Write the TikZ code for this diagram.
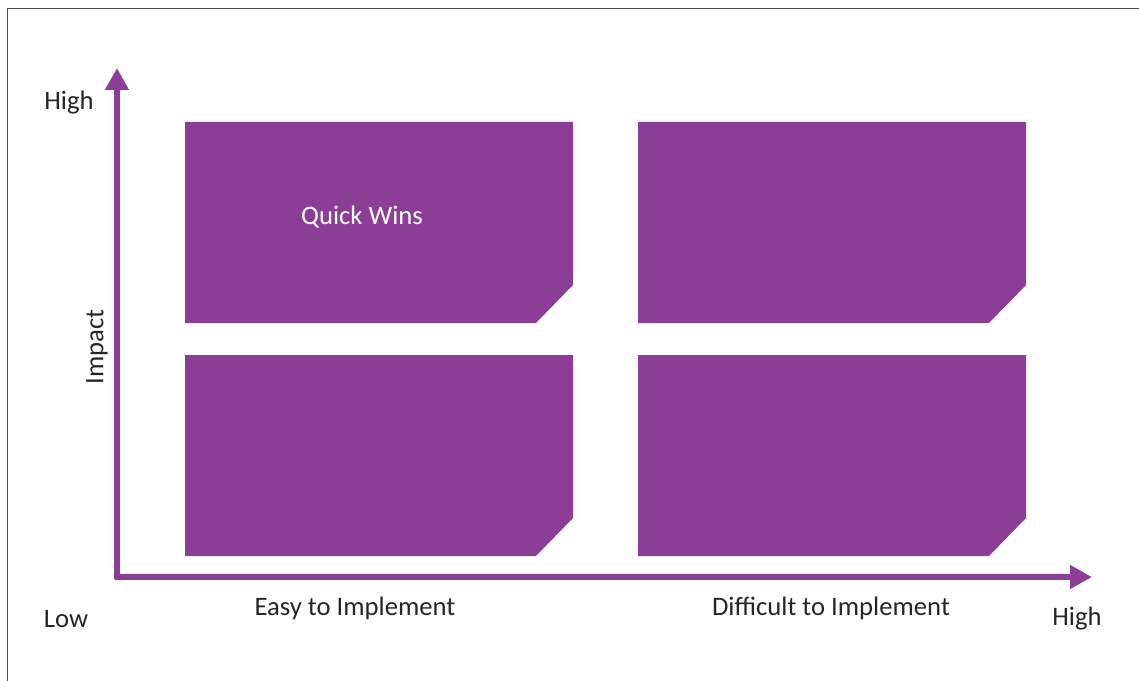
\documentclass[tikz,border=0pt]{standalone}
\usepackage{fontspec}
\setmainfont{Carlito}
\usetikzlibrary{arrows.meta,calc}
\definecolor{plum}{RGB}{140,62,150}
\newcommand{\quadbox}[2]{
  \fill[plum] (#1,#2) -- ++(388,0) -- ++(0,163) -- ++(-37,38) -- ++(-351,0) -- cycle;
}

\begin{document}
\begin{tikzpicture}[x=0.75pt,y=-0.75pt,
  axis/.style={plum, line width=4.1pt, -{Triangle[length=16.5pt,width=17pt]}},
  lbl/.style={text=black!85, font=\fontsize{20}{24}\selectfont, inner sep=0pt}]
  \useasboundingbox (0,0) rectangle (1139,681);
  \draw[black!70, line width=1pt] (7.5,681) -- (7.5,8.5) -- (1139,8.5);

  % the four quadrants
  \quadbox{185}{122}
  \quadbox{638}{122}
  \quadbox{185}{355}
  \quadbox{638}{355}

  \coordinate (o) at (117,577);
  \coordinate (ytip) at (117,68);
  \coordinate (xtip) at (1092,577);
  \draw[axis] ($(o)+(0,2)$) -- (ytip);
  \draw[axis] ($(o)+(-2,0)$) -- (xtip);

  \node[lbl] at (69,103) (yhigh) {High};
  \node[lbl] at (66,619) (low) {Low};
  \node[lbl] at (1077,619) (xhigh) {High};
  \node[lbl, rotate=90] at (97,347) (impact) {Impact};
  \node[lbl] at (355,608) (easy) {Easy to Implement};
  \node[lbl] at (831,608) (hard) {Difficult to Implement};
  \node[lbl, text=white] at (362,217) (quick) {Quick Wins};
\end{tikzpicture}
\end{document}
